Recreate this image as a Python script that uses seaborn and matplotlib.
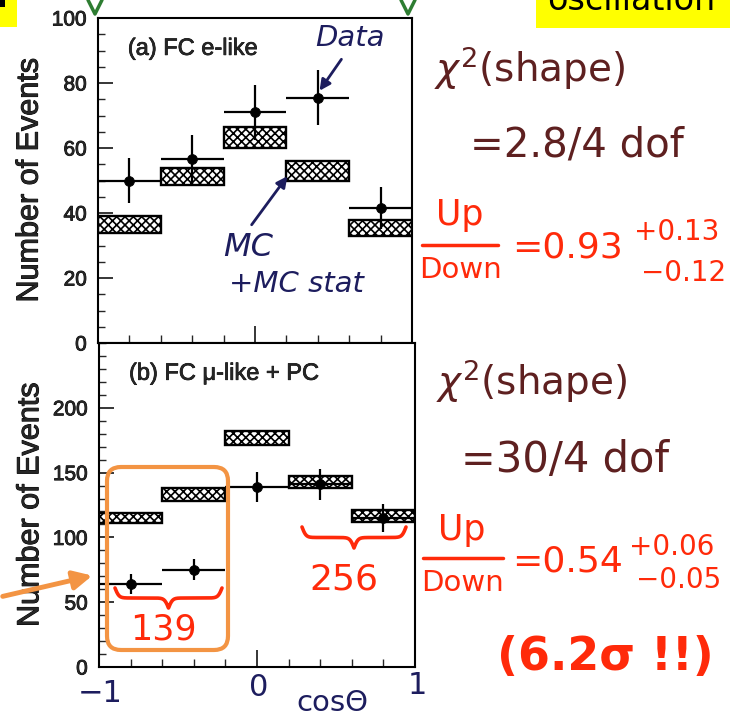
import numpy as np
import pandas as pd
import matplotlib
matplotlib.use("Agg")
import matplotlib.pyplot as plt
import matplotlib.transforms as mtransforms
import matplotlib.patheffects as pe
from matplotlib.patches import FancyBboxPatch, Rectangle, FancyArrowPatch
from matplotlib.ticker import MultipleLocator, FixedLocator
import seaborn as sns

# cos(zenith) binning
bin_lo = [-1.0, -0.6, -0.2, 0.2, 0.6]
bin_hi = [-0.6, -0.2, 0.2, 0.6, 1.0]

# (a) FC e-like
e_data = [50, 56.5, 71, 75.5, 41.5]
e_err = [7.0, 7.5, 8.4, 8.5, 6.4]
e_mc_lo = [34, 48.5, 60, 50, 33]
e_mc_hi = [39, 54, 66.5, 56, 38]

# (b) FC mu-like + PC
mu_data = [64, 75, 139, 141, 115]
mu_err = [7.5, 8.0, 11.3, 11.8, 10.7]
mu_mc_lo = [111, 128, 171, 138, 112]
mu_mc_hi = [119, 138, 182, 147.5, 121]

W, H = 734, 719
sns.set_style("ticks")
plt.rcParams["font.family"] = ["Liberation Sans", "DejaVu Sans"]
plt.rcParams["hatch.linewidth"] = 1.2
plt.rcParams["hatch.color"] = "black"

fig = plt.figure(figsize=(W / 100, H / 100), dpi=100)
fig.patch.set_facecolor("white")
PX = mtransforms.Affine2D().scale(1, -1).translate(0, H)  # pixel coords, origin top-left
INK = [pe.withStroke(linewidth=0.7, foreground="black")]  # heavier printed text


def add_axes_px(x0, y0, x1, y1):
    return fig.add_axes([x0 / W, 1 - y1 / H, (x1 - x0) / W, (y1 - y0) / H])


def panel(ax, data, err, lo, hi, ymax, majors, minor_step, label):
    df = pd.DataFrame({
        "left": bin_lo, "right": bin_hi,
        "data": data, "err": err, "lo": lo, "hi": hi,
    })
    df["center"] = (df["left"] + df["right"]) / 2
    df["width"] = df["right"] - df["left"]
    ax.bar(df["left"], df["hi"] - df["lo"], bottom=df["lo"], width=df["width"],
           align="edge", facecolor="white", edgecolor="black", hatch="xxxx",
           linewidth=1.7, zorder=2)
    ax.errorbar(df["center"], df["data"], xerr=df["width"] / 2, yerr=df["err"],
                fmt="none", ecolor="black", elinewidth=1.6, capsize=0, zorder=3)
    sns.scatterplot(data=df, x="center", y="data", ax=ax, color="black", s=50,
                    edgecolor="black", zorder=4, legend=False)
    ax.set_xlim(-1, 1)
    ax.set_ylim(0, ymax)
    ax.set_xlabel("")
    ax.set_ylabel("Number of Events", fontsize=22, path_effects=INK)
    ax.yaxis.set_label_coords(-0.17, 0.5)
    ax.yaxis.set_major_locator(FixedLocator(majors))
    ax.yaxis.set_minor_locator(MultipleLocator(minor_step))
    ax.xaxis.set_major_locator(FixedLocator([0]))
    ax.xaxis.set_minor_locator(FixedLocator([-0.8, -0.6, -0.4, -0.2, 0.2, 0.4, 0.6, 0.8]))
    ax.tick_params(axis="y", which="major", direction="in", length=11, width=1.3,
                   labelsize=15, pad=8, left=True, right=False)
    ax.tick_params(axis="y", which="minor", direction="in", length=5, width=1.0,
                   left=True, right=False)
    ax.tick_params(axis="x", which="major", direction="in", length=12, width=1.3,
                   labelbottom=False, top=False, bottom=True)
    ax.tick_params(axis="x", which="minor", direction="in", length=6, width=1.0,
                   top=False, bottom=True)
    for t in ax.get_yticklabels():
        t.set_path_effects([pe.withStroke(linewidth=0.6, foreground="black")])
    for s in ax.spines.values():
        s.set_visible(True)
        s.set_linewidth(1.5)
        s.set_color("black")
    ax.text(0.095, 0.905, label, transform=ax.transAxes, fontsize=17,
            ha="left", va="center", path_effects=[pe.withStroke(linewidth=0.5, foreground="black")])


ax_e = add_axes_px(98, 18, 412, 343)
panel(ax_e, e_data, e_err, e_mc_lo, e_mc_hi, 100, [0, 20, 40, 60, 80, 100], 5,
      "(a) FC e-like")
ax_mu = add_axes_px(99, 343, 415, 667)
panel(ax_mu, mu_data, mu_err, mu_mc_lo, mu_mc_hi, 250, [0, 50, 100, 150, 200], 10,
      "(b) FC \u03bc-like + PC")

# ---- header strip ----
fig.add_artist(Rectangle((0, 0), 17, 27, transform=PX, facecolor="#ffff00",
                         edgecolor="none"))
fig.add_artist(Rectangle((0, 0), 5, 7, transform=PX, facecolor="black",
                         edgecolor="none"))
fig.add_artist(Rectangle((536, 0), 194, 28, transform=PX, facecolor="#ffff00",
                         edgecolor="none"))
fig.text(631, 10, "oscillation", transform=PX, fontsize=24, ha="center",
         va="baseline", family="DejaVu Sans", color="black")
for gx in (95, 408):
    fig.add_artist(plt.Line2D([gx - 7, gx, gx + 7], [0, 14, 0], transform=PX,
                              color="#2e7d32", lw=2.5))

# ---- hand-written notes ----
BLUE = "#1d1d5e"
MAROON = "#5e2020"
RED = "#ff2a0a"
ORANGE = "#f39443"
hand = dict(family="DejaVu Sans", ha="center", va="center")

fig.text(350, 38, "Data", transform=PX, color=BLUE, fontsize=21, style="italic", **hand)
fig.add_artist(FancyArrowPatch((343, 57), (318, 93), transform=PX, color=BLUE,
                               arrowstyle="-|>", mutation_scale=16, lw=2))
fig.text(248, 247, "MC", transform=PX, color=BLUE, fontsize=23, style="italic", **hand)
fig.text(296, 284, "+MC stat", transform=PX, color=BLUE, fontsize=21, style="italic", **hand)
fig.add_artist(FancyArrowPatch((250, 227), (289, 174), transform=PX, color=BLUE,
                               arrowstyle="-|>", mutation_scale=16, lw=2))
fig.text(100, 694, "\u22121", transform=PX, color=BLUE, fontsize=22, **hand)
fig.text(259, 687, "0", transform=PX, color=BLUE, fontsize=22, **hand)
fig.text(417, 685, "1", transform=PX, color=BLUE, fontsize=22, **hand)
fig.text(332, 703, "cos\u0398", transform=PX, color=BLUE, fontsize=21, **hand)

fig.text(530, 68, r"$\chi^2$(shape)", transform=PX, color=MAROON, fontsize=28, **hand)
fig.text(577, 145, "=2.8/4 dof", transform=PX, color=MAROON, fontsize=29, **hand)
fig.text(532, 381, r"$\chi^2$(shape)", transform=PX, color=MAROON, fontsize=28, **hand)
fig.text(565, 460, "=30/4 dof", transform=PX, color=MAROON, fontsize=30, **hand)


def up_down(cx, y_up, y_line, y_down, x0, x1, val, plus, minus, vx, px_, py_p, py_m):
    fig.text(cx, y_up, "Up", transform=PX, color=RED, fontsize=25, **hand)
    fig.add_artist(plt.Line2D([x0, x1], [y_line, y_line], transform=PX, color=RED, lw=2.5))
    fig.text(cx, y_down, "Down", transform=PX, color=RED, fontsize=21, **hand)
    fig.text(vx, (y_line + 3), val, transform=PX, color=RED, fontsize=26, **hand)
    fig.text(px_, py_p, plus, transform=PX, color=RED, fontsize=20, **hand)
    fig.text(px_ + 7, py_m, minus, transform=PX, color=RED, fontsize=20, **hand)


up_down(460, 215, 245, 270, 422, 498, "=0.93", "+0.13", "\u22120.12", 567, 677, 232, 273)
up_down(462, 530, 558, 583, 423, 503, "=0.54", "+0.06", "\u22120.05", 568, 672, 547, 580)
fig.text(605, 657, "(6.2\u03c3 !!)", transform=PX, color=RED, fontsize=33,
         fontweight="bold", **hand)


def brace(x0, x1, top, depth, beta=0.5):
    xs = np.linspace(x0, x1, 301)
    half = xs[:151]
    yh = (1 / (1 + np.exp(-beta * (half - half[0])))
          + 1 / (1 + np.exp(-beta * (half - half[-1]))))
    yy = np.concatenate((yh, yh[-2::-1]))
    fig.add_artist(plt.Line2D(xs, top + (yy - 0.5) * depth, transform=PX,
                              color=RED, lw=2.6, solid_capstyle="round"))


brace(115, 222, 588, 20)
brace(302, 406, 527, 21)
fig.text(163, 630, "139", transform=PX, color=RED, fontsize=25, **hand)
fig.text(344, 579, "256", transform=PX, color=RED, fontsize=26, **hand)

fig.add_artist(FancyBboxPatch((107, 467), 121, 183, transform=PX,
                              boxstyle="round,pad=0,rounding_size=14",
                              facecolor="none", edgecolor=ORANGE, lw=3))
fig.add_artist(FancyArrowPatch((0, 597), (95, 575), transform=PX, color=ORANGE,
                               arrowstyle="-|>", mutation_scale=28, lw=3.5))

fig.savefig("out.png", dpi=100, facecolor="white")
